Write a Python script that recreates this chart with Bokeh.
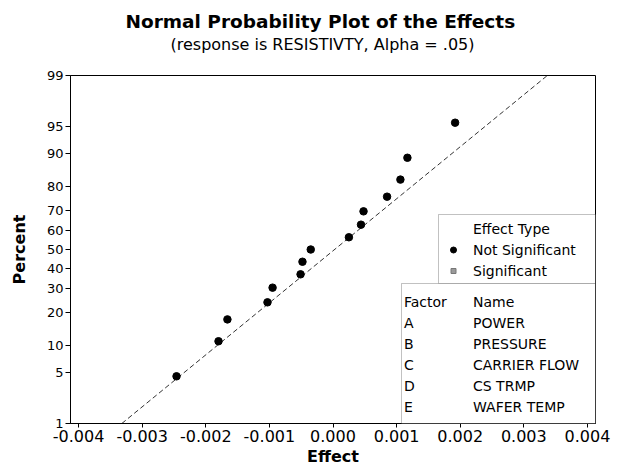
from statistics import NormalDist
from bokeh.plotting import figure
from bokeh.models import (FixedTicker, PrintfTickFormatter, Label, BoxAnnotation,
                          Range1d, ColumnDataSource, Title)
from bokeh.embed import file_html
from bokeh.resources import INLINE

# ---------------- data ----------------
effects = [-0.00246, -0.00180, -0.00166, -0.00103, -0.00095, -0.00051, -0.00048,
           -0.00035, 0.00025, 0.00044, 0.00048, 0.00085, 0.00106, 0.00117, 0.00192]
percents = [4.5, 11.0, 17.5, 24.0, 30.5, 37.0, 43.5, 50.0,
            56.5, 63.0, 69.5, 76.0, 82.5, 89.0, 95.5]
fit_percents = [1, 99]
fit_effects = [-0.00332, 0.00337]
y_tick_pcts = [1, 5, 10, 20, 30, 40, 50, 60, 70, 80, 90, 95, 99]
x_ticks = [-0.004, -0.003, -0.002, -0.001, 0.0, 0.001, 0.002, 0.003, 0.004]
effect_types = ["Not Significant", "Significant"]
factor_letters = ["A", "B", "C", "D", "E"]
factor_names = ["POWER", "PRESSURE", "CARRIER FLOW", "CS TRMP", "WAFER TEMP"]
title_text = "Normal Probability Plot of the Effects"
subtitle_text = "(response is RESISTIVTY, Alpha = .05)"

FONT = "DejaVu Sans"
nd = NormalDist()


def z(p):
    return nd.inv_cdf(p / 100.0)


# ---------------- layout constants ----------------
W, H = 624, 475
FL, FR, FT, FB = 70, 595, 75, 423          # frame edges in figure pixels
XL, XR = -0.004127, 0.004127
YB, YT = z(1), z(99)


def X(px):
    return XL + (px - FL) / (FR - FL) * (XR - XL)


def Y(py):
    return YT - (py - FT) / (FB - FT) * (YT - YB)


p = figure(width=W, height=H, x_range=Range1d(XL, XR), y_range=Range1d(YB, YT),
           output_backend="svg", toolbar_location=None, title=None,
           min_border_left=FL, min_border_right=W - FR,
           min_border_top=FT, min_border_bottom=H - FB)
p.grid.visible = False
p.outline_line_color = "black"
p.outline_line_width = 1
p.background_fill_color = "white"
p.border_fill_color = "white"

# titles: spacer nearest the frame, then subtitle, then main title
p.add_layout(Title(text=" ", standoff=0, text_font=FONT, text_font_size="16px"), "above")
p.add_layout(Title(text=subtitle_text, align="left", offset=100, standoff=2,
                   text_font=FONT, text_font_size="16px",
                   text_font_style="normal", text_color="black"), "above")
p.add_layout(Title(text=title_text, align="left", offset=55, standoff=0,
                   text_font=FONT, text_font_size="18.5px",
                   text_font_style="bold", text_color="black"), "above")

# fit line
p.line([fit_effects[0], fit_effects[1]], [z(v) for v in fit_percents],
       line_color="#333333", line_width=1, line_dash="5 3")

# points
src = ColumnDataSource(dict(x=effects, y=[z(v) for v in percents]))
p.scatter("x", "y", source=src, size=7.5, marker="circle",
          fill_color="black", line_color="black")

# x axis
p.xaxis.ticker = FixedTicker(ticks=x_ticks)
p.xaxis.formatter = PrintfTickFormatter(format="%.3f")
p.xaxis.axis_label = "Effect"
p.xaxis.axis_label_text_font = FONT
p.xaxis.axis_label_text_font_style = "bold"
p.xaxis.axis_label_text_font_size = "16px"
p.xaxis.axis_label_standoff = 2
p.xaxis.major_label_text_font = FONT
p.xaxis.major_label_text_font_size = "16px"
p.xaxis.major_label_standoff = 2
p.xaxis.major_tick_out = 4
p.xaxis.major_tick_in = 0
p.xaxis.minor_tick_line_color = None

# y axis (normal probability scale)
yt = [z(v) for v in y_tick_pcts]
p.yaxis.ticker = FixedTicker(ticks=yt)
p.yaxis.major_label_overrides = {t: str(v) for t, v in zip(yt, y_tick_pcts)}
p.yaxis.axis_label = "Percent"
p.yaxis.axis_label_text_font = FONT
p.yaxis.axis_label_text_font_style = "bold"
p.yaxis.axis_label_text_font_size = "16px"
p.yaxis.axis_label_standoff = 15
p.yaxis.major_label_text_font = FONT
p.yaxis.major_label_text_font_size = "13px"
p.yaxis.major_label_standoff = 2
p.yaxis.major_tick_out = 5
p.yaxis.major_tick_in = 0
p.yaxis.minor_tick_line_color = None

for ax in (p.xaxis, p.yaxis):
    ax.axis_line_color = "black"
    ax.major_tick_line_color = "black"
    ax.major_label_text_color = "black"
    ax.axis_label_text_color = "black"

# legend boxes
p.add_layout(BoxAnnotation(left=X(438), right=X(FR), top=Y(214), bottom=Y(283),
                           fill_color="white", fill_alpha=1, line_color="#333333",
                           line_width=1, level="annotation"))
p.add_layout(BoxAnnotation(left=X(401), right=X(FR), top=Y(283), bottom=Y(FB),
                           fill_color="white", fill_alpha=1, line_color="#333333",
                           line_width=1, level="annotation"))

LFS = "14px"


def lab(px, py, txt):
    p.add_layout(Label(x=X(px), y=Y(py), text=txt, text_align="left",
                       text_baseline="middle", text_font=FONT,
                       text_font_size=LFS, text_color="black"))


lab(472.5, 228, "Effect Type")
for i, t in enumerate(effect_types):
    lab(472.5, 249.5 + 21 * i, t)

leg_src = ColumnDataSource(dict(x=[X(453)], y=[Y(249.5)]))
p.scatter("x", "y", source=leg_src, size=6, marker="circle",
          fill_color="black", line_color="black", level="overlay")
leg_src2 = ColumnDataSource(dict(x=[X(453)], y=[Y(270.5)]))
p.scatter("x", "y", source=leg_src2, size=5, marker="square",
          fill_color="#9a9a9a", line_color="#777777", level="overlay")

lab(403.5, 301, "Factor")
lab(472.5, 301, "Name")
for i, (a, b) in enumerate(zip(factor_letters, factor_names)):
    yy = 322 + 21.2 * i
    lab(403.5, yy, a)
    lab(472.5, yy, b)

open("out.html", "w").write(file_html(p, INLINE))
